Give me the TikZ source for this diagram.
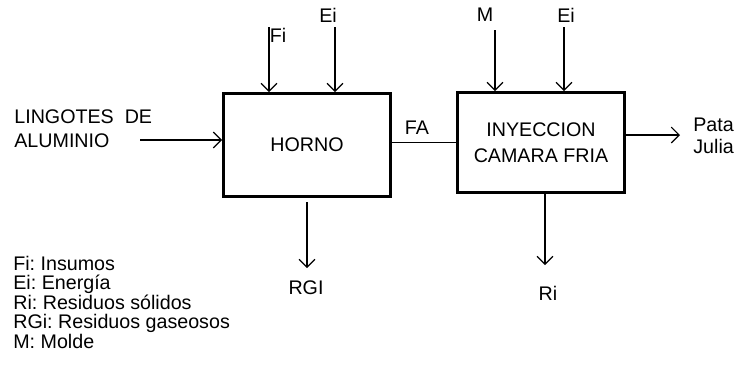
\documentclass[tikz,border=0pt]{standalone}
\usepackage{fontspec}
\setmainfont{Liberation Sans}
\usetikzlibrary{arrows.meta}
\frenchspacing

\tikzset{
  procbox/.style={draw, line width=1.6pt, inner sep=0pt, minimum width=3.34cm},
  flow/.style={line width=0.7pt, -{Straight Barb[length=4.5pt,width=9pt]}},
  lbl/.style={inner sep=0pt}
}

\begin{document}
\begin{tikzpicture}[x=0.02cm, y=-0.02cm, font=\fontsize{11.2}{13.7}\selectfont]
  \useasboundingbox (0,0) rectangle (737,370);

  % Draw process boxes
  \node[procbox, minimum height=2.06cm] (horno) at (307,145) {HORNO};
  \node[procbox, minimum height=2cm, align=center, font=\fontsize{11.2}{14.8}\selectfont] (iny) at (541,142.5) {INYECCION\\CAMARA FRIA};

  % Inputs from above
  \node[lbl] (fi) at (278,35) {Fi};
  \node[lbl] (eiH) at (328,15) {Ei};
  \node[lbl] (m) at (485,15) {M};
  \node[lbl] (eiI) at (566,15) {Ei};
  \coordinate (fiTop) at (269,27);
  \coordinate (eiHTop) at (335,27);
  \coordinate (mTop) at (495,30);
  \coordinate (eiITop) at (564,27);
  \draw[flow] (fiTop) -- (fiTop |- horno.north);
  \draw[flow] (eiHTop) -- (eiHTop |- horno.north);
  \draw[flow] (mTop) -- (mTop |- iny.north);
  \draw[flow] (eiITop) -- (eiITop |- iny.north);

  % Raw material in, product out
  \node[lbl, anchor=west, align=left] (ling) at (14,128.5) {LINGOTES \ DE\\ALUMINIO};
  \coordinate (lingTail) at (140,140);
  \draw[flow] (lingTail) -- (lingTail -| horno.west);
  \draw[line width=0.7pt] (horno.east |- iny.west) -- (iny.west);
  \node[lbl] (fa) at (417,128) {FA};
  \coordinate (outEnd) at (680,135);
  \draw[flow] (outEnd -| iny.east) -- (outEnd);
  \node[lbl, anchor=west, align=left, font=\fontsize{11.2}{12.5}\selectfont] (pata) at (693,135.5) {Pata\\Julia};

  % Waste out below
  \coordinate (rgiEnd) at (307,268);
  \coordinate (riEnd) at (545,265);
  \draw[flow, shorten <=0.09cm] (horno.south) -- (rgiEnd);
  \draw[flow] (riEnd |- iny.south) -- (riEnd);
  \node[lbl] (rgi) at (306,288) {RGI};
  \node[lbl] (ri) at (548,293) {Ri};

  % Legend
  \foreach \txt [count=\i] in {Fi: Insumos, Ei: Energía, Ri: Residuos sólidos, RGi: Residuos gaseosos, M: Molde} {
    \node[lbl, anchor=base west] (leg\i) at (13,250.5+19.5*\i) {\txt};
  }
\end{tikzpicture}
\end{document}
